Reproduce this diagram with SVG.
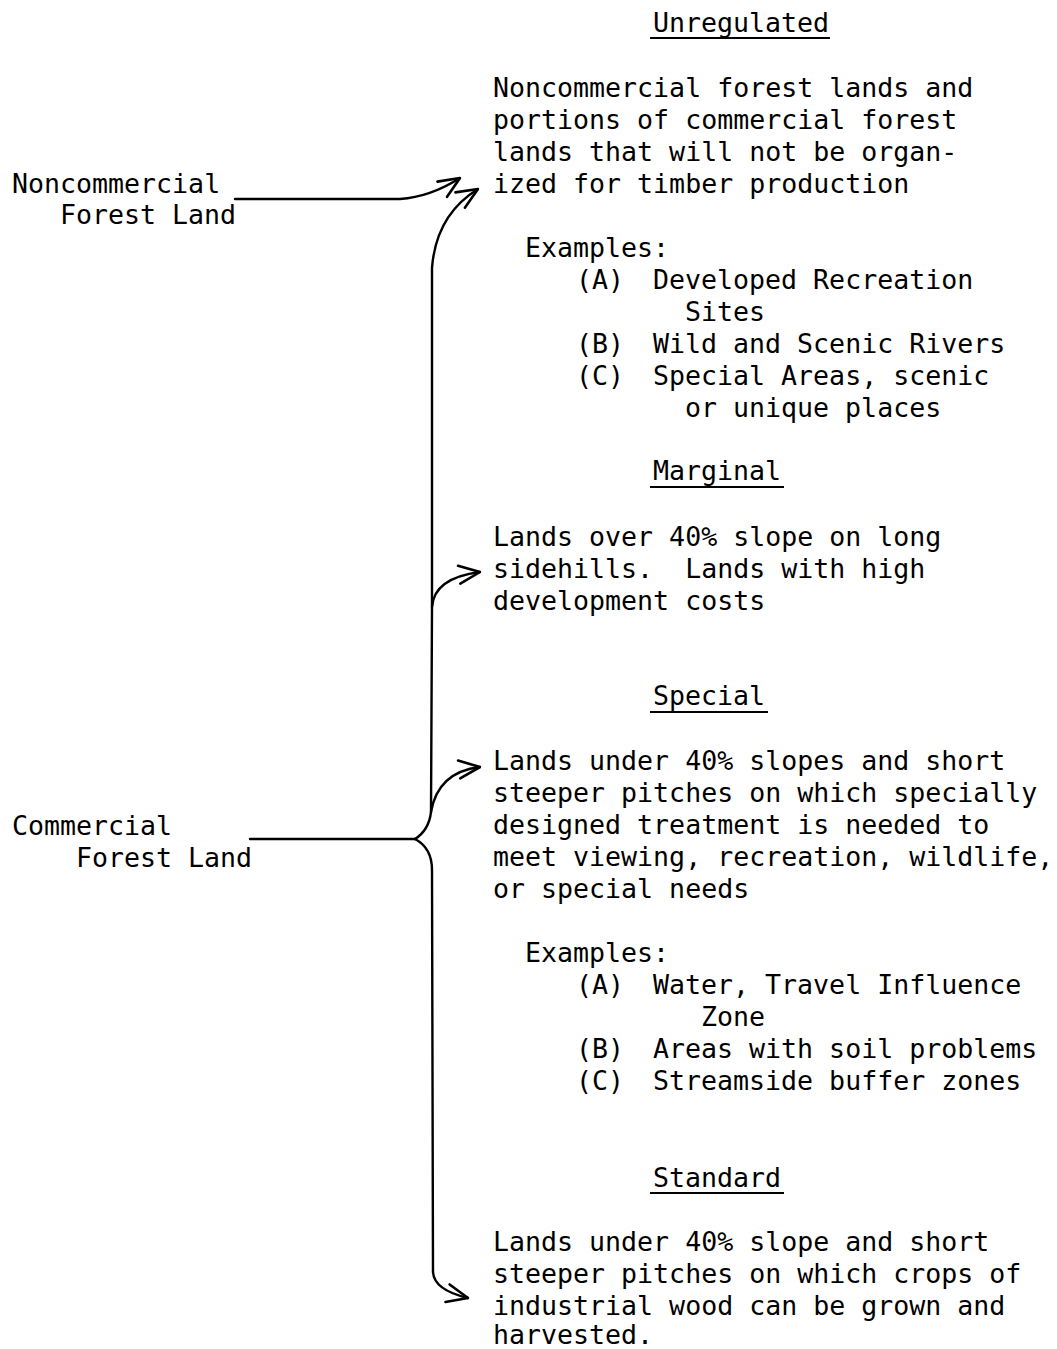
<svg xmlns="http://www.w3.org/2000/svg" width="1057" height="1349" viewBox="0 0 1057 1349">
  <style>
    text { font-family: "DejaVu Sans Mono", "Liberation Mono", monospace; font-size: 26.6px; fill: #000; white-space: pre; }
    .line { fill: none; stroke: #000; stroke-width: 2.4; stroke-linecap: round; stroke-linejoin: round; }
    .rule { stroke: #000; stroke-width: 2; }
  </style>
  <defs>
    <marker id="open-arrow" viewBox="0 0 24 24" refX="23" refY="12" markerWidth="24" markerHeight="24" markerUnits="userSpaceOnUse" orient="auto">
      <path d="M2,3 L23,12 L2,21" fill="none" stroke="#000" stroke-width="2.6" stroke-linecap="round" stroke-linejoin="round"/>
    </marker>
  </defs>
  <rect width="1057" height="1349" fill="#fff"/>

  <!-- left-hand land classes -->
  <g id="noncommercial-land">
    <text x="12" y="193">Noncommercial</text>
    <text x="60" y="224">Forest Land</text>
  </g>
  <g id="commercial-land">
    <text x="12" y="835">Commercial</text>
    <text x="76" y="867">Forest Land</text>
  </g>

  <!-- Unregulated -->
  <g id="unregulated">
    <text x="653" y="32">Unregulated</text>
    <line class="rule" x1="650" y1="38" x2="830" y2="38"/>
    <text x="493" y="97">Noncommercial forest lands and</text>
    <text x="493" y="129">portions of commercial forest</text>
    <text x="493" y="161">lands that will not be organ-</text>
    <text x="493" y="193">ized for timber production</text>
    <text x="525" y="257">Examples:</text>
    <text x="576" y="289">(A)</text>
    <text x="653" y="289">Developed Recreation</text>
    <text x="685" y="321">Sites</text>
    <text x="576" y="353">(B)</text>
    <text x="653" y="353">Wild and Scenic Rivers</text>
    <text x="576" y="385">(C)</text>
    <text x="653" y="385">Special Areas, scenic</text>
    <text x="685" y="417">or unique places</text>
  </g>

  <!-- Marginal -->
  <g id="marginal">
    <text x="653" y="480">Marginal</text>
    <line class="rule" x1="650" y1="487" x2="784" y2="487"/>
    <text x="493" y="546">Lands over 40% slope on long</text>
    <text x="493" y="578">sidehills.  Lands with high</text>
    <text x="493" y="610">development costs</text>
  </g>

  <!-- Special -->
  <g id="special">
    <text x="653" y="705">Special</text>
    <line class="rule" x1="650" y1="712" x2="768" y2="712"/>
    <text x="493" y="770">Lands under 40% slopes and short</text>
    <text x="493" y="802">steeper pitches on which specially</text>
    <text x="493" y="834">designed treatment is needed to</text>
    <text x="493" y="866">meet viewing, recreation, wildlife,</text>
    <text x="493" y="898">or special needs</text>
    <text x="525" y="962">Examples:</text>
    <text x="576" y="994">(A)</text>
    <text x="653" y="994">Water, Travel Influence</text>
    <text x="701" y="1026">Zone</text>
    <text x="576" y="1058">(B)</text>
    <text x="653" y="1058">Areas with soil problems</text>
    <text x="576" y="1090">(C)</text>
    <text x="653" y="1090">Streamside buffer zones</text>
  </g>

  <!-- Standard -->
  <g id="standard">
    <text x="653" y="1187">Standard</text>
    <line class="rule" x1="650" y1="1193" x2="784" y2="1193"/>
    <text x="493" y="1251">Lands under 40% slope and short</text>
    <text x="493" y="1283">steeper pitches on which crops of</text>
    <text x="493" y="1315">industrial wood can be grown and</text>
    <text x="493" y="1344">harvested.</text>
  </g>

  <!-- connectors -->
  <g id="connectors">
    <!-- noncommercial to unregulated -->
    <path class="line" d="M235,199 L400,199 Q430,197 460,178" marker-end="url(#open-arrow)"/>
    <!-- commercial stem and brace -->
    <path class="line" d="M250,839 L415,839"/>
    <path class="line" d="M415,839 Q429,830 431,812 L432,607 L432,268"/>
    <path class="line" d="M415,839 Q432,848 432,870 L433,1272"/>
    <!-- brace branches -->
    <path class="line" d="M432,268 Q436,215 478,189" marker-end="url(#open-arrow)"/>
    <path class="line" d="M432,607 Q434,578 480,572" marker-end="url(#open-arrow)"/>
    <path class="line" d="M431,812 Q438,772 480,767" marker-end="url(#open-arrow)"/>
    <path class="line" d="M433,1272 Q434,1290 468,1298" marker-end="url(#open-arrow)"/>
  </g>
</svg>
